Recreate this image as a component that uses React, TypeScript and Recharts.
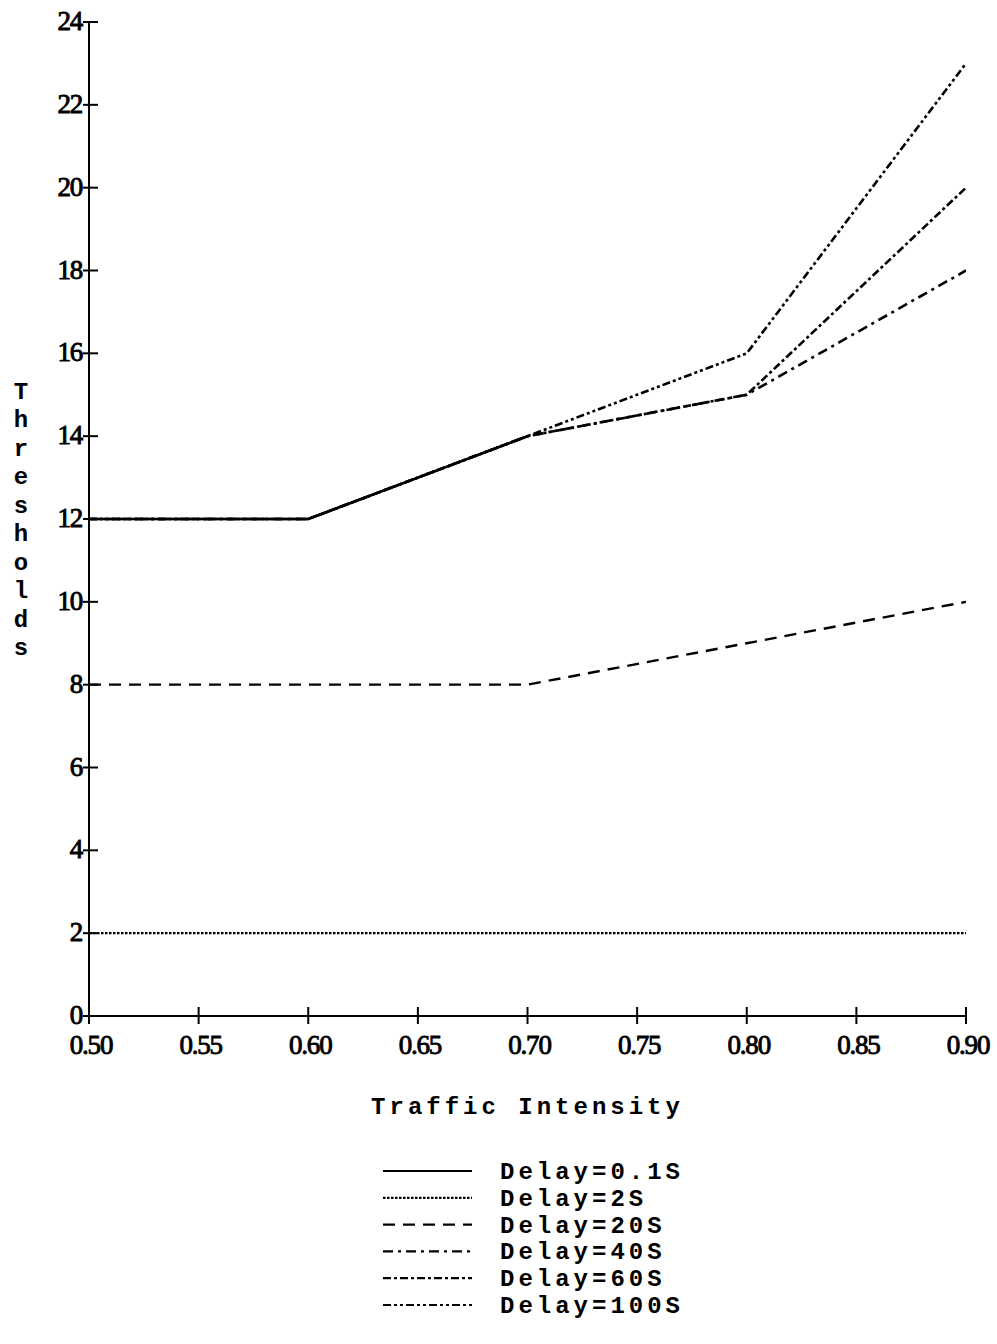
import React from 'react';
import { LineChart, Line, XAxis, YAxis, Legend, Label } from 'recharts';

// traffic intensity on the x axis
const intensity = [0.5, 0.6, 0.7, 0.8, 0.9];
const xTicks = [0.5, 0.55, 0.6, 0.65, 0.7, 0.75, 0.8, 0.85, 0.9];
const yTicks = [0, 2, 4, 6, 8, 10, 12, 14, 16, 18, 20, 22, 24];

// thresholds per delay setting
const delay01 = [12, 12, 14, null, null];
const delay2 = [2, 2, 2, 2, 2];
const delay20 = [8, 8, 8, 9, 10];
const delay40 = [12, 12, 14, 15, 18];
const delay60 = [12, 12, 14, 15, 20];
const delay100 = [12, 12, 14, 16, 23];

const series = [
  { key: 'd01', name: 'Delay=0.1S', values: delay01, dash: undefined, width: 2.6 },
  { key: 'd2', name: 'Delay=2S', values: delay2, dash: '2.5 1.5', width: 2.2 },
  { key: 'd20', name: 'Delay=20S', values: delay20, dash: '12 8', width: 2.4 },
  { key: 'd40', name: 'Delay=40S', values: delay40, dash: '10 5 3 5', width: 2.6 },
  { key: 'd60', name: 'Delay=60S', values: delay60, dash: '8 3 3 3', width: 2.6 },
  { key: 'd100', name: 'Delay=100S', values: delay100, dash: '8 3 3 3 3 3', width: 2.6 },
];

const data = intensity.map((x, i) => {
  const row: Record<string, number | null> = { x };
  series.forEach((s) => {
    row[s.key] = s.values[i];
  });
  return row;
});

const TICK_SIZE = 6;
const TICK_MARGIN = 3;
const numFont = { fontFamily: '"Liberation Serif", serif', fontSize: 27, letterSpacing: -1.2 };
const monoFont = { fontFamily: '"Liberation Mono", monospace', fontWeight: 700, fontSize: 24 };

const YTick = (props: any) => {
  const { x, y, payload } = props;
  const ax = x + TICK_SIZE + TICK_MARGIN;
  return (
    <g>
      <line x1={ax - 6} x2={ax + 9} y1={y} y2={y} stroke="#000" strokeWidth={2} />
      <text x={ax - 7} y={y} dy={8} textAnchor="end" fill="#000" stroke="#000" strokeWidth={0.9} {...numFont}>
        {payload.value}
      </text>
    </g>
  );
};

const XTick = (props: any) => {
  const { x, y, payload } = props;
  const ay = y - TICK_SIZE - TICK_MARGIN;
  return (
    <g>
      <line x1={x} x2={x} y1={ay - 9} y2={ay + 8} stroke="#000" strokeWidth={2} />
      <text x={x + 2} y={ay + 38} textAnchor="middle" fill="#000" stroke="#000" strokeWidth={0.9} {...numFont}>
        {payload.value.toFixed(2)}
      </text>
    </g>
  );
};

const StackedLabel = (props: any) => {
  const { viewBox } = props;
  const letters = 'Thresholds'.split('');
  const step = 28.5;
  const cy = viewBox.y + viewBox.height / 2;
  const top = cy - ((letters.length - 1) * step) / 2;
  return (
    <text x={21} textAnchor="middle" fill="#000" {...monoFont}>
      {letters.map((c, i) => (
        <tspan key={i} x={21} y={top + i * step + 8}>
          {c}
        </tspan>
      ))}
    </text>
  );
};

const LegendBox = () => (
  <svg width={340} height={180}>
    {series.map((s, i) => {
      const cy = 16 + i * 26.8;
      return (
        <g key={s.key}>
          <line x1={3} x2={92} y1={cy} y2={cy} stroke="#000" strokeWidth={2.2} strokeDasharray={s.dash} />
          <text x={120} y={cy + 8} fill="#000" letterSpacing={4} {...monoFont}>
            {s.name}
          </text>
        </g>
      );
    })}
  </svg>
);

export default function App() {
  return (
    <div style={{ position: 'absolute', left: 0, top: 0, width: 997, height: 1344, background: '#fff' }}>
      <LineChart width={997} height={1344} data={data} margin={{ top: 22, right: 31, left: 0, bottom: 228 }}>
        <XAxis
          dataKey="x"
          type="number"
          domain={[0.5, 0.9]}
          ticks={xTicks}
          tick={<XTick />}
          tickLine={false}
          tickSize={TICK_SIZE}
          tickMargin={TICK_MARGIN}
          axisLine={{ stroke: '#000', strokeWidth: 2 }}
          height={100}
          allowDataOverflow
        >
          <Label
            value="Traffic Intensity"
            position="insideBottom"
            offset={2}
            fill="#000"
            style={{ ...monoFont, letterSpacing: 4 }}
          />
        </XAxis>
        <YAxis
          type="number"
          domain={[0, 24]}
          ticks={yTicks}
          tick={<YTick />}
          tickLine={false}
          tickSize={TICK_SIZE}
          tickMargin={TICK_MARGIN}
          axisLine={{ stroke: '#000', strokeWidth: 2 }}
          width={89}
          allowDataOverflow
        >
          <Label content={<StackedLabel />} />
        </YAxis>
        <Legend
          layout="horizontal"
          verticalAlign="middle"
          align="center"
          content={<LegendBox />}
          wrapperStyle={{ top: 1155, left: 380, width: 340, height: 180 }}
        />
        {series.map((s) => (
          <Line
            key={s.key}
            dataKey={s.key}
            name={s.name}
            type="linear"
            stroke="#000"
            strokeWidth={s.width}
            strokeDasharray={s.dash}
            dot={false}
            activeDot={false}
            connectNulls={false}
            isAnimationActive={false}
          />
        ))}
      </LineChart>
    </div>
  );
}
